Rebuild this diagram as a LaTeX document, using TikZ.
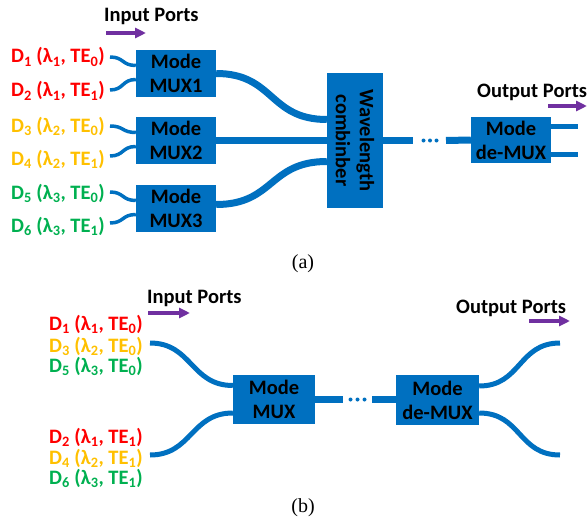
\documentclass[tikz,border=0pt]{standalone}
\usepackage{fontspec}
\setmainfont{Carlito}
\newfontfamily\capfont{Liberation Serif}
\usetikzlibrary{arrows.meta,calc}
\definecolor{wg}{RGB}{0,112,192}
\definecolor{dred}{RGB}{255,0,0}
\definecolor{dyel}{RGB}{255,192,0}
\definecolor{dgrn}{RGB}{0,176,80}
\definecolor{portarrow}{RGB}{112,48,160}
\newcommand{\chan}[3]{D\textsubscript{#1} (λ\textsubscript{#2}, TE\textsubscript{#3})}
\newcommand{\labfont}{\fontsize{20.5}{24}\selectfont\bfseries}
\begin{document}
\begin{tikzpicture}[x=1pt,y=-1pt,
  box/.style={fill=wg, inner sep=0pt, minimum width=80pt, minimum height=47pt, align=center, font=\labfont},
  chanlbl/.style={anchor=base east, inner sep=0pt, font=\labfont},
  portlbl/.style={anchor=base west, inner sep=0pt, font=\labfont},
  wgthin/.style={draw=wg, line width=3.5pt},
  wgmid/.style={draw=wg, line width=5pt},
  wgthick/.style={draw=wg, line width=7pt},
  dirarrow/.style={draw=portarrow, line width=3.5pt, -{Triangle[length=11pt,width=10pt]}},
  dotmark/.style={fill=wg, circle, inner sep=0pt, minimum size=4pt},
  caption/.style={font=\capfont\fontsize{20}{24}\selectfont}]
\useasboundingbox (0,0) rectangle (587,519);

% ---------------- (a) ----------------
\node[portlbl] (inA) at (104,22) {Input Ports};
\coordinate (inAs) at (106,33);
\coordinate (inAe) at (146,33);
\draw[dirarrow] (inAs) -- (inAe);

\node[chanlbl, text=dred] (a1) at (105,63)  {\chan{1}{1}{0}};
\node[chanlbl, text=dred] (a2) at (105,97)  {\chan{2}{1}{1}};
\node[chanlbl, text=dyel] (a3) at (105,132) {\chan{3}{2}{0}};
\node[chanlbl, text=dyel] (a4) at (105,165) {\chan{4}{2}{1}};
\node[chanlbl, text=dgrn] (a5) at (105,199) {\chan{5}{3}{0}};
\node[chanlbl, text=dgrn] (a6) at (105,232) {\chan{6}{3}{1}};

\node[box] (m1) at (176,73.5)  {Mode\\MUX1};
\node[box] (m2) at (176,140.5) {Mode\\MUX2};
\node[box] (m3) at (176,208.5) {Mode\\MUX3};

\coordinate (p1) at (110,57);
\coordinate (p2) at (110,90);
\coordinate (p3) at (110,126);
\coordinate (p4) at (110,156);
\coordinate (p5) at (110,192);
\coordinate (p6) at (110,223);
\foreach \p/\m/\dy in {p1/m1/-8, p2/m1/6, p3/m2/-8, p4/m2/6, p5/m3/-8, p6/m3/6}
  \draw[wgthin] (\p) .. controls +(14,0) and +(-14,0) .. ($(\m.west)+(0,\dy)$);

\node[box, minimum width=56pt, minimum height=135pt] (wc) at (355,140.5) {};
\node[rotate=-90, align=center, inner sep=0pt, font=\labfont] (wct) at (wc.center) {Wavelength\\combinber};

\draw[wgthick] (m1.east) .. controls +(58,0) and +(-58,0) .. ($(wc.west)+(0,-21)$);
\draw[wgthick] (m2.east) -- (m2.east -| wc.west);
\draw[wgthick] ($(m3.east)+(0,-4)$) .. controls +(58,0) and +(-58,0) .. ($(wc.west)+(0,21)$);

\node[box, minimum height=46pt] (dm) at (511,140) {Mode\\de-MUX};
\coordinate (ga) at (413,140.5);
\coordinate (gb) at (446,140.5);
\draw[wgthick] (wc.east) -- (ga);
\draw[wgthick] (gb) -- (dm.west);
\node[dotmark] (da1) at (423.5,140.5) {};
\node[dotmark] (da2) at (430,140.5) {};
\node[dotmark] (da3) at (436.5,140.5) {};

\coordinate (oa1) at (578,127);
\coordinate (oa2) at (578,154);
\draw[wgmid] ($(dm.east)+(0,-13)$) -- (oa1);
\draw[wgmid] ($(dm.east)+(0,14)$) -- (oa2);

\node[portlbl] (outA) at (477,98) {Output Ports};
\coordinate (outAs) at (548,106);
\coordinate (outAe) at (587,106);
\draw[dirarrow] (outAs) -- (outAe);

\node[caption] (capA) at (303,264) {(a)};

% ---------------- (b) ----------------
\node[portlbl] (inB) at (147,303) {Input Ports};
\coordinate (inBs) at (148,313);
\coordinate (inBe) at (190,313);
\draw[dirarrow] (inBs) -- (inBe);

\node[chanlbl, text=dred] (b1) at (143,330) {\chan{1}{1}{0}};
\node[chanlbl, text=dyel] (b3) at (143,352) {\chan{3}{2}{0}};
\node[chanlbl, text=dgrn] (b5) at (143,372) {\chan{5}{3}{0}};
\node[chanlbl, text=dred] (b2) at (143,443) {\chan{2}{1}{1}};
\node[chanlbl, text=dyel] (b4) at (143,464) {\chan{4}{2}{1}};
\node[chanlbl, text=dgrn] (b6) at (143,484) {\chan{6}{3}{1}};

\node[box, minimum width=82pt, minimum height=49pt] (mb) at (274,399.5) {Mode\\MUX};
\node[box, minimum width=83pt, minimum height=50pt] (db) at (437.5,400) {Mode\\de-MUX};

\coordinate (q1) at (150,343);
\coordinate (q2) at (150,455);
\draw[wgmid] (q1) .. controls +(42,0) and +(-42,0) .. ($(mb.west)+(0,-14)$);
\draw[wgmid] (q2) .. controls +(42,0) and +(-42,0) .. ($(mb.west)+(0,13.5)$);

\coordinate (gc) at (343,399.5);
\coordinate (gd) at (372,399.5);
\draw[wgthick] (mb.east) -- (gc);
\draw[wgthick] (gd) -- (db.west |- gd);
\node[dotmark] (db1) at (350.5,399.5) {};
\node[dotmark] (db2) at (357.5,399.5) {};
\node[dotmark] (db3) at (364.5,399.5) {};

\coordinate (r1) at (560,343);
\coordinate (r2) at (560,455);
\draw[wgmid] ($(db.east)+(0,-14)$) .. controls +(42,0) and +(-42,0) .. (r1);
\draw[wgmid] ($(db.east)+(0,13)$) .. controls +(42,0) and +(-42,0) .. (r2);

\node[portlbl] (outB) at (456,313) {Output Ports};
\coordinate (outBs) at (529,321);
\coordinate (outBe) at (570,321);
\draw[dirarrow] (outBs) -- (outBe);

\node[caption] (capB) at (303,508) {(b)};
\end{tikzpicture}
\end{document}
